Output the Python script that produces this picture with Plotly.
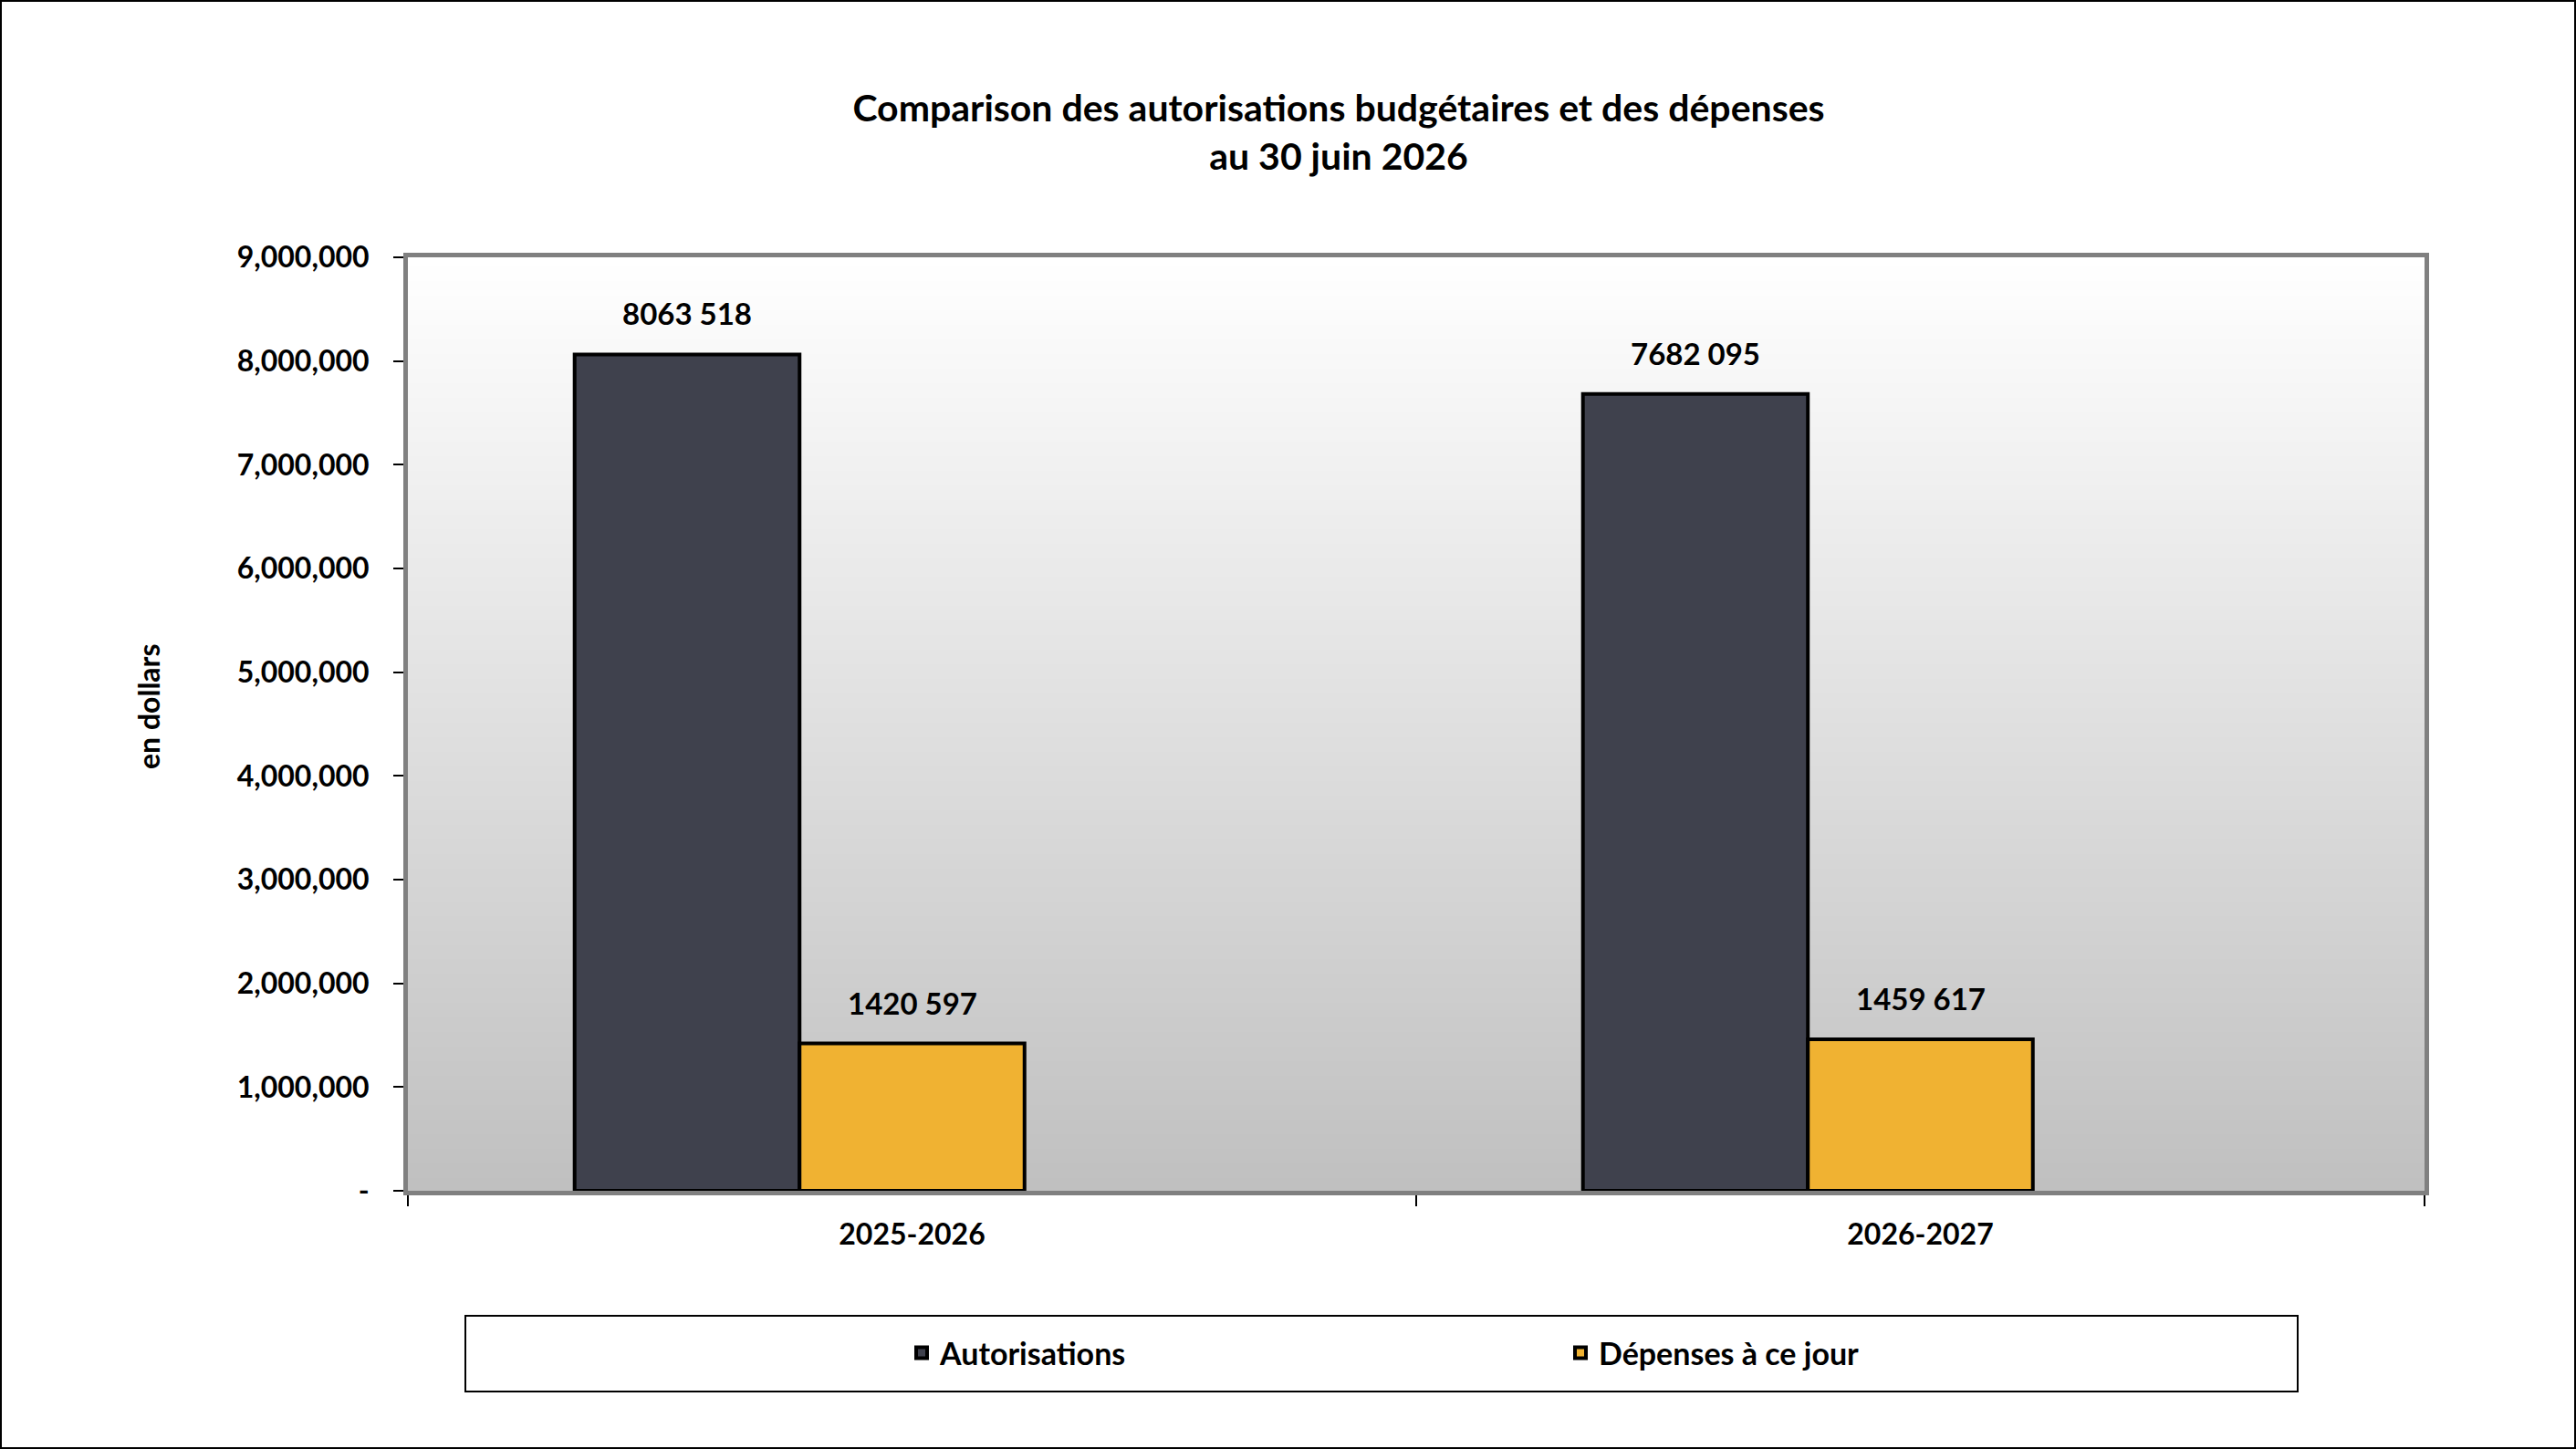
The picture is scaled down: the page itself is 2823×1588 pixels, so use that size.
import base64, struct, zlib
import plotly.graph_objects as go

# ---------------- data ----------------
categories = ["2025-2026", "2026-2027"]
autorisations = [8063518, 7682095]
depenses = [1420597, 1459617]
series_names = ["Autorisations", "Dépenses à ce jour"]
y_tickvals = [0, 1000000, 2000000, 3000000, 4000000, 5000000, 6000000, 7000000, 8000000, 9000000]
y_ticktext = ["-", "1,000,000", "2,000,000", "3,000,000", "4,000,000", "5,000,000",
              "6,000,000", "7,000,000", "8,000,000", "9,000,000"]
title_text = "Comparison des autorisations budgétaires et des dépenses<br>au 30 juin 2026"
y_title = "en dollars"

# ---------------- geometry ----------------
W, H = 2823, 1588
L, R, T, B = 447, 2657, 282, 1305
PW, PH = R - L, B - T
FONT = "Lato"


def px(x):
    return (x - L) / PW


def py(y):
    return (B - y) / PH


def fmt_label(v):
    # Excel-style "# ###": only the last group of thousands is separated
    return f"{v // 1000} {v % 1000:03d}"


def gradient_png(h, top, bottom):
    raw = b""
    for i in range(h):
        v = round(top + (bottom - top) * i / (h - 1))
        raw += b"\x00" + bytes([v, v, v])

    def chunk(tag, data):
        c = struct.pack(">I", len(data)) + tag + data
        return c + struct.pack(">I", zlib.crc32(tag + data) & 0xFFFFFFFF)

    png = b"\x89PNG\r\n\x1a\n"
    png += chunk(b"IHDR", struct.pack(">IIBBBBB", 1, h, 8, 2, 0, 0, 0))
    png += chunk(b"IDAT", zlib.compress(raw))
    png += chunk(b"IEND", b"")
    return "data:image/png;base64," + base64.b64encode(png).decode()


bw = 0.2231  # bar width in category units (3 slots per category, third empty)

fig = go.Figure()
fig.add_trace(go.Bar(
    x=categories, y=autorisations, name=series_names[0],
    width=bw, offset=-1.5 * bw,
    marker=dict(color="#3F414D", line=dict(color="#000000", width=4)),
))
fig.add_trace(go.Bar(
    x=categories, y=depenses, name=series_names[1],
    width=bw, offset=-0.5 * bw,
    marker=dict(color="#F0B232", line=dict(color="#000000", width=4)),
))

annotations = []
for i, cat in enumerate(categories):
    for val, off in ((autorisations[i], -bw), (depenses[i], 0.0)):
        annotations.append(dict(
            x=i + off, y=val, xref="x", yref="y", text=fmt_label(val),
            showarrow=False, yanchor="bottom", yshift=23,
            font=dict(family=FONT, size=33, color="#000000", weight="bold"),
        ))

annotations.append(dict(
    x=px(162), y=py(774), xref="paper", yref="paper", text=y_title,
    textangle=-90, showarrow=False, xanchor="center", yanchor="middle",
    font=dict(family=FONT, size=32, color="#000000", weight="bold"),
))

shapes = [
    # outer chart border
    dict(type="rect", xref="paper", yref="paper",
         x0=px(1), x1=px(W - 1), y0=py(H - 1), y1=py(1),
         line=dict(color="#000000", width=2), layer="below"),
    # legend box
    dict(type="rect", xref="paper", yref="paper",
         x0=px(510), x1=px(2518), y0=py(1525), y1=py(1442),
         line=dict(color="#000000", width=2), layer="below"),
]

fig.update_layout(
    width=W, height=H,
    margin=dict(l=L, r=W - R, t=T, b=H - B, autoexpand=False),
    paper_bgcolor="#FFFFFF", plot_bgcolor="rgba(0,0,0,0)",
    barmode="overlay",
    font=dict(family=FONT, size=32, color="#000000"),
    title=dict(text=title_text, x=1467 / W, xanchor="center", xref="container",
               y=1 - 133 / H, yanchor="top", yref="container",
               font=dict(family=FONT, size=41, color="#000000", weight="bold")),
    images=[dict(source=gradient_png(256, 255, 192), xref="paper", yref="paper",
                 x=0, y=1, sizex=1, sizey=1, xanchor="left", yanchor="top",
                 sizing="stretch", layer="below")],
    shapes=shapes,
    annotations=annotations,
    showlegend=True,
    legend=dict(orientation="h", x=px(990), y=py(1483), xanchor="left", yanchor="middle",
                entrywidth=677, entrywidthmode="pixels", bgcolor="rgba(0,0,0,0)",
                font=dict(family=FONT, size=34, color="#000000", weight="bold"),
                traceorder="normal"),
    xaxis=dict(type="category", range=[-0.5, 1.5], showgrid=False, zeroline=False,
               showline=True, linecolor="#808080", linewidth=5, mirror=True,
               ticks="outside", tickson="boundaries", ticklen=12, tickwidth=2,
               tickcolor="#000000", ticklabelstandoff=16,
               tickfont=dict(family=FONT, size=32, color="#000000", weight="bold")),
    yaxis=dict(range=[0, 9000000], tickvals=y_tickvals, ticktext=y_ticktext,
               showgrid=False, zeroline=False,
               showline=True, linecolor="#808080", linewidth=5, mirror=True,
               ticks="outside", ticklen=11, tickwidth=2, tickcolor="#000000",
               ticklabelstandoff=20,
               tickfont=dict(family=FONT, size=32, color="#000000", weight="bold")),
)

fig.write_html("out.html")
